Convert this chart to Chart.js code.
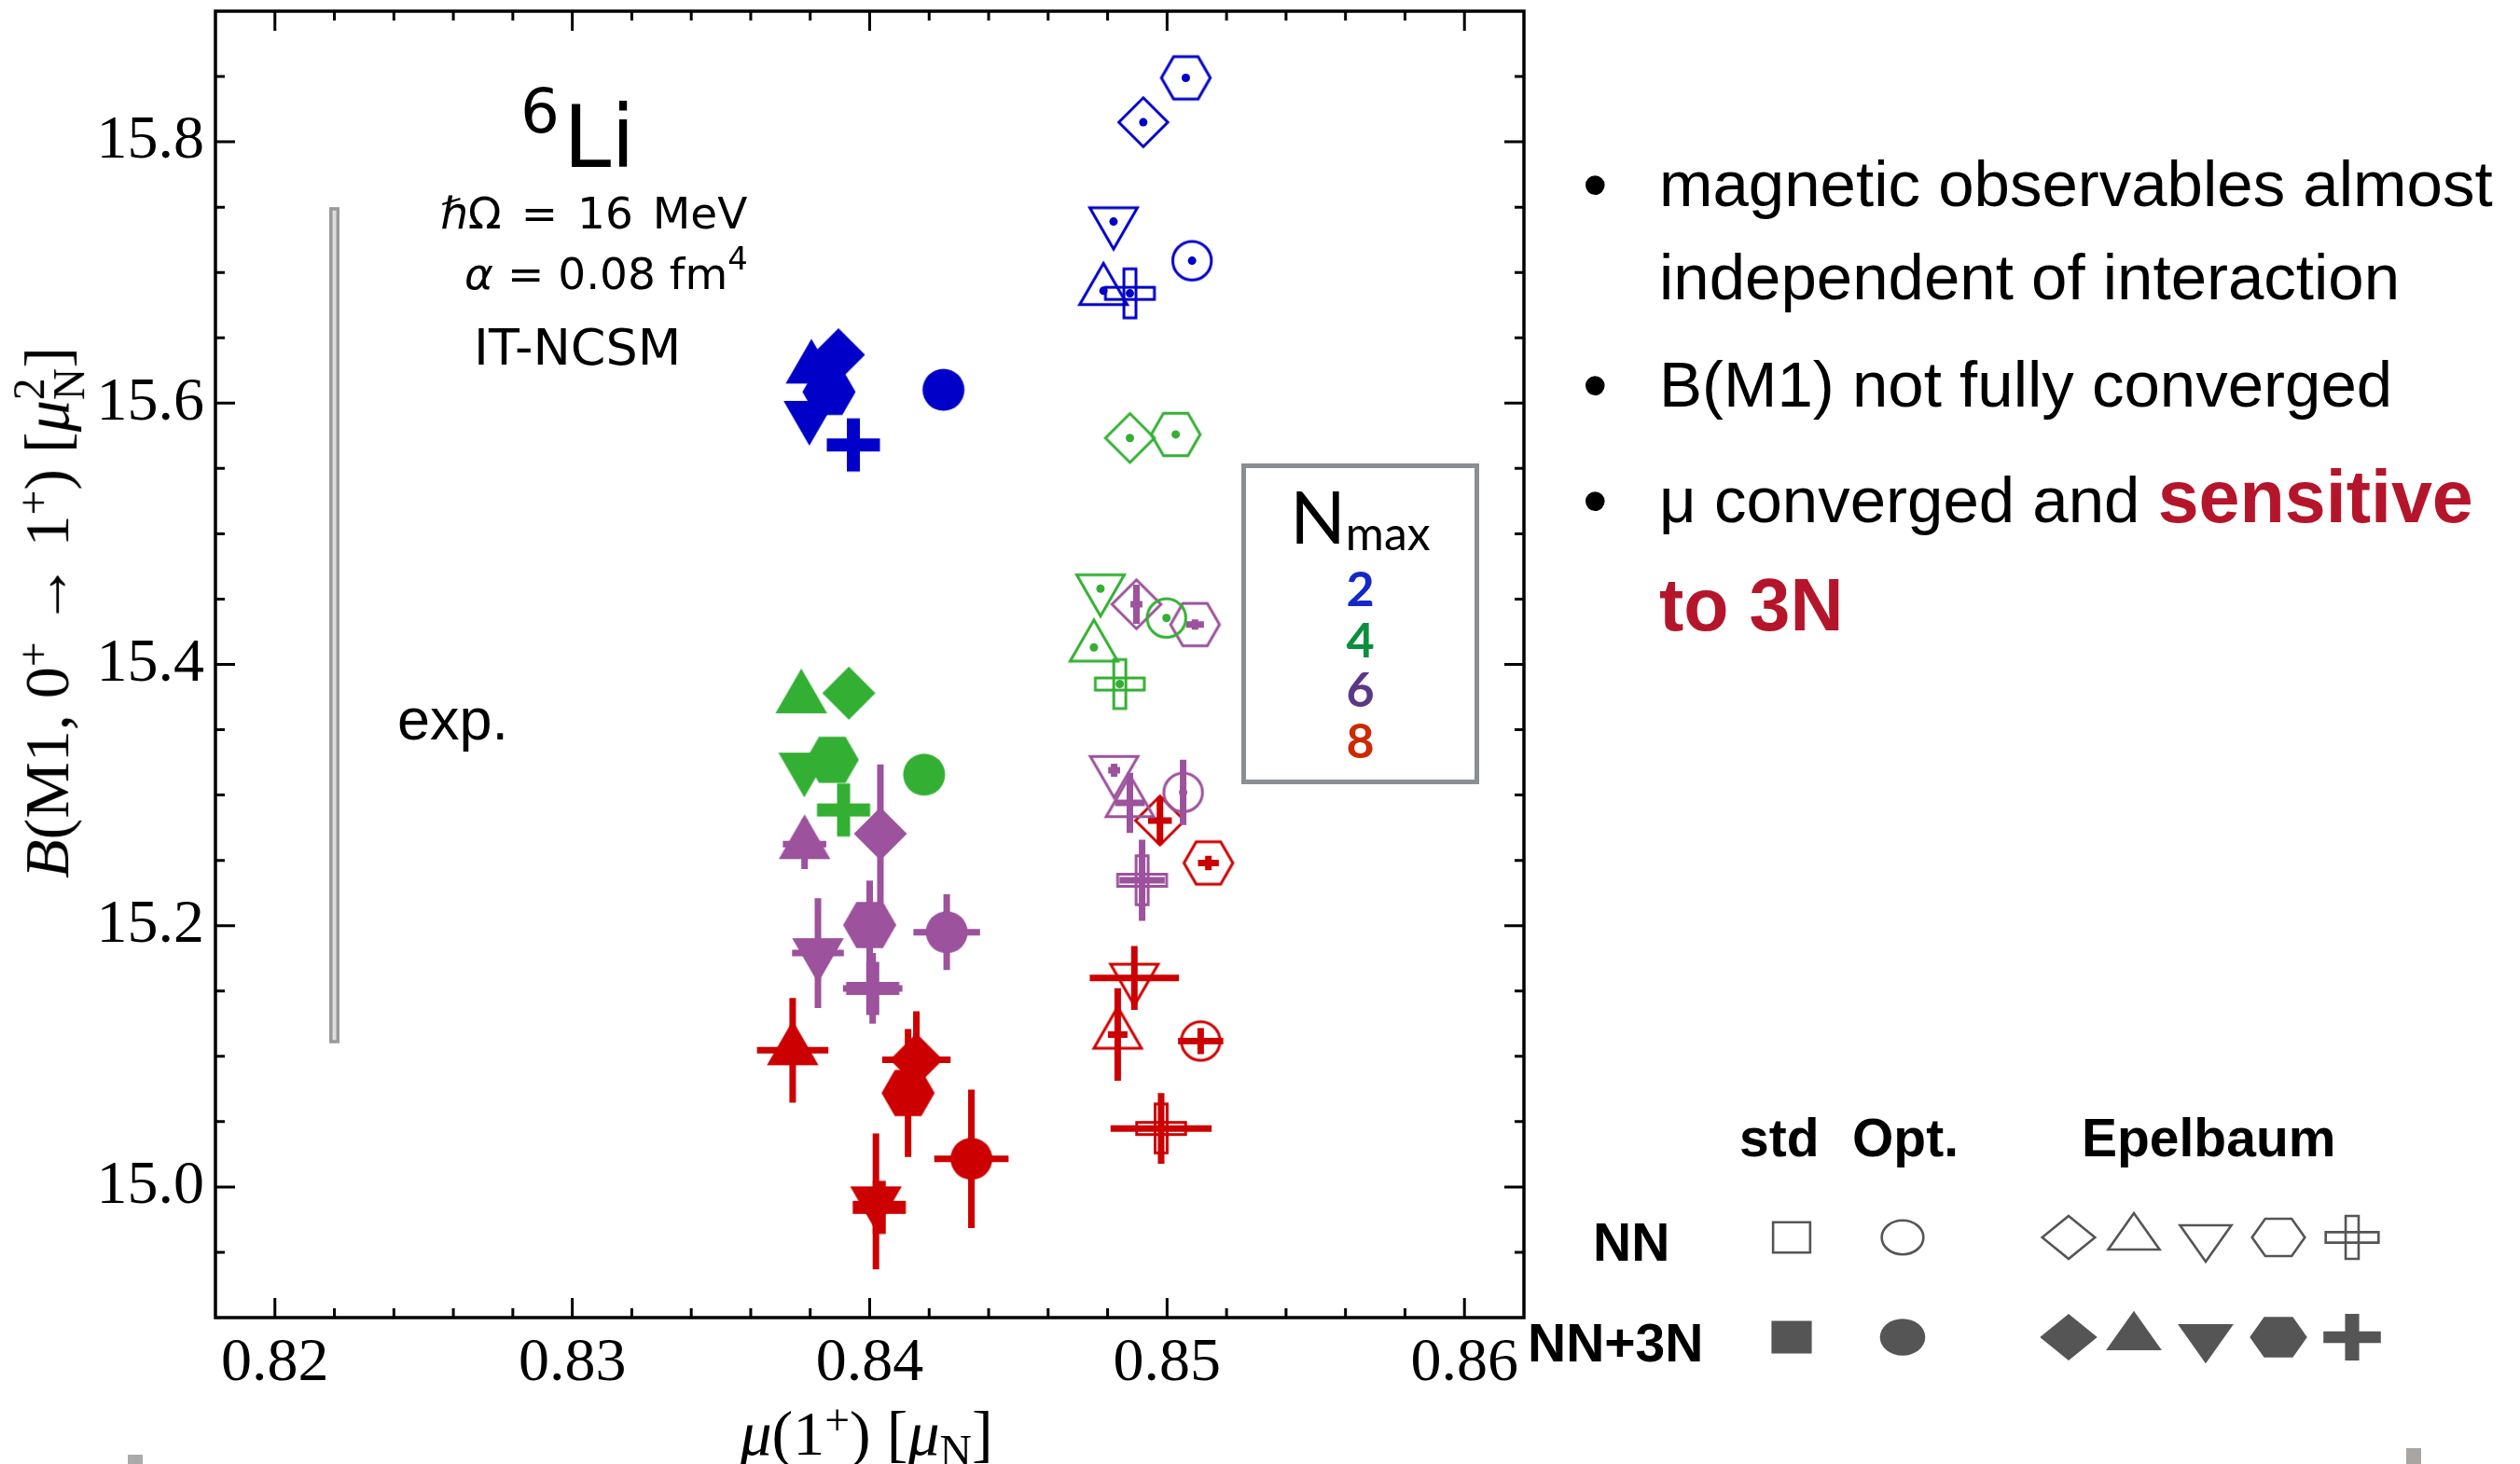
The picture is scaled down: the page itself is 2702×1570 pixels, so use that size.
<!DOCTYPE html>
<html><head><meta charset="utf-8">
<script src="https://cdn.jsdelivr.net/npm/chart.js@4.4.1/dist/chart.umd.min.js"></script>
<style>
html,body{margin:0;padding:0;background:#fff;}
#wrap{position:relative;width:2702px;height:1570px;overflow:hidden;background:#fff;}
#c{position:absolute;left:0;top:0;}
.t{position:absolute;white-space:nowrap;line-height:1;color:#000;}
.dv{font-family:'DejaVu Sans';}
.ls{font-family:'Liberation Sans';}
.sr{font-family:'Liberation Serif';}
.b{font-weight:bold;}
.red{color:#b5152b;font-weight:bold;font-size:79px;}
sup.s{font-size:0.7em;vertical-align:0;position:relative;top:-0.45em;}
sub.s{font-size:0.7em;vertical-align:0;position:relative;top:0.25em;}
</style></head><body>
<div id="wrap">
<canvas id="c" width="2702" height="1570"></canvas>

<!-- annotations inside the plot -->
<div class="t dv" style="left:558px;top:87px;font-size:66px;">6</div>
<div class="t dv" style="left:604px;top:102px;font-size:92px;">Li</div>
<div class="t dv" style="left:472px;top:205px;font-size:47px;word-spacing:6px;"><i>ℏ</i>Ω = 16 MeV</div>
<div class="t dv" style="left:498px;top:270px;font-size:47px;"><i>α</i> = 0.08 fm<span style="font-size:0.72em;position:relative;top:-0.62em;">4</span></div>
<div class="t dv" style="left:508px;top:346px;font-size:54px;">IT-NCSM</div>
<div class="t ls" style="left:426px;top:740px;font-size:63px;">exp.</div>

<!-- axis titles -->
<div class="t sr" style="left:929px;top:1503px;font-size:68px;transform:translateX(-50%);"><i>μ</i>(1<sup class="s">+</sup>) [<i>μ</i><sub class="s">N</sub>]</div>
<div class="t sr" style="left:53px;top:657px;font-size:68px;transform:translate(-50%,-50%) rotate(-90deg);"><i>B</i>(M1, 0<sup class="s">+</sup> → 1<sup class="s">+</sup>) [<i>μ</i><span style="display:inline-block;font-size:0.7em;line-height:0.9;vertical-align:-0.35em;text-align:left;">2<br>N</span>]</div>

<!-- Nmax box -->
<div style="position:absolute;left:1331px;top:497px;width:255px;height:344px;box-sizing:border-box;border:5px solid #8a8d91;"></div>
<div class="t" style="left:1331px;top:514px;width:255px;text-align:center;font-family:Lato;"><span style="font-size:78px;">N</span><span style="font-size:50px;position:relative;top:7px;">max</span></div>
<div class="t" style="left:1331px;top:604px;width:255px;text-align:center;font-family:Lato;font-weight:bold;font-size:52px;color:#1428c8;">2</div>
<div class="t" style="left:1331px;top:659px;width:255px;text-align:center;font-family:Lato;font-weight:bold;font-size:52px;color:#0b8f3c;">4</div>
<div class="t" style="left:1331px;top:712px;width:255px;text-align:center;font-family:Lato;font-weight:bold;font-size:52px;color:#5b3886;">6</div>
<div class="t" style="left:1331px;top:767px;width:255px;text-align:center;font-family:Lato;font-weight:bold;font-size:52px;color:#cc2a00;">8</div>

<!-- bullet text -->
<div class="t ls" style="left:1697px;top:160px;font-size:76px;">•</div>
<div class="t ls" style="left:1779px;top:163px;font-size:69px;">magnetic observables almost</div>
<div class="t ls" style="left:1779px;top:263px;font-size:69px;">independent of interaction</div>
<div class="t ls" style="left:1697px;top:375px;font-size:76px;">•</div>
<div class="t ls" style="left:1779px;top:378px;font-size:69px;">B(M1) not fully converged</div>
<div class="t ls" style="left:1697px;top:499px;font-size:76px;">•</div>
<div class="t ls" style="left:1779px;top:493px;font-size:69px;">μ converged and <span class="red">sensitive</span></div>
<div class="t ls red" style="left:1779px;top:609px;">to 3N</div>

<!-- symbol legend text -->
<div class="t ls b" style="left:1865px;top:1192px;font-size:57px;">std</div>
<div class="t ls b" style="left:1986px;top:1192px;font-size:57px;">Opt.</div>
<div class="t ls b" style="left:2232px;top:1192px;font-size:57px;">Epelbaum</div>
<div class="t ls b" style="left:1708px;top:1304px;font-size:57px;">NN</div>
<div class="t ls b" style="left:1638px;top:1412px;font-size:57px;">NN+3N</div>

<div style="position:absolute;left:137px;top:1560px;width:16px;height:10px;background:#aaa;"></div>
<div style="position:absolute;left:2580px;top:1553px;width:16px;height:17px;background:#a8a5a3;"></div>
</div>

<script>
// ---------------- data ----------------
// marker order inside every series
const shapeOrder = ['diamond', 'triUp', 'triDown', 'hexagon', 'plus', 'circle'];
const nmaxValues = [2, 4, 6, 8];

// axis ticks
const xTicks = [0.82, 0.83, 0.84, 0.85, 0.86];
const yTicks = [15.0, 15.2, 15.4, 15.6, 15.8];
const X_MIN = 0.818, X_MAX = 0.862, X_MINOR = 0.002;
const Y_MIN = 14.9, Y_MAX = 15.9, Y_MINOR = 0.05;

// experiment
const expMu = 0.822;
const expB = 15.43;
const expBErr = 0.32;

// NN (open symbols)
const mu_NN_2 = [0.8492, 0.84786, 0.8482, 0.85063, 0.84875, 0.85084];
const B_NN_2 = [15.815, 15.686, 15.739, 15.849, 15.684, 15.709];
const dmu_NN_2 = [0, 0, 0, 0, 0, 0];
const dB_NN_2 = [0, 0, 0, 0, 0, 0];

const mu_NN_4 = [0.84875, 0.84754, 0.84776, 0.85029, 0.84841, 0.84998];
const B_NN_4 = [15.5733, 15.413, 15.458, 15.576, 15.385, 15.4355];
const dmu_NN_4 = [0, 0, 0, 0, 0, 0];
const dB_NN_4 = [0, 0, 0, 0, 0, 0];

const mu_NN_6 = [0.84897, 0.84875, 0.84822, 0.85094, 0.84916, 0.85054];
const B_NN_6 = [15.446, 15.294, 15.319, 15.4305, 15.2348, 15.302];
const dmu_NN_6 = [0.0002, 0.0005, 0.0002, 0.0003, 0.00076, 0.0001];
const dB_NN_6 = [0.015, 0.023, 0.005, 0.004, 0.031, 0.025];

const mu_NN_8 = [0.84976, 0.84834, 0.8489, 0.85139, 0.8498, 0.85113];
const B_NN_8 = [15.2805, 15.1167, 15.16, 15.248, 15.0448, 15.1117];
const dmu_NN_8 = [0.0004, 0.00033, 0.0015, 0.00035, 0.0017, 0.00076];
const dB_NN_8 = [0.018, 0.0354, 0.0244, 0.0055, 0.027, 0.01];

// NN+3N (filled symbols)
const mu_3N_2 = [0.83895, 0.83804, 0.83797, 0.83863, 0.83945, 0.84248];
const B_3N_2 = [15.637, 15.6264, 15.5903, 15.6086, 15.568, 15.6102];
const dmu_3N_2 = [0, 0, 0, 0, 0, 0];
const dB_3N_2 = [0, 0, 0, 0, 0, 0];

const mu_3N_4 = [0.8393, 0.8377, 0.8378, 0.83874, 0.83912, 0.84183];
const B_3N_4 = [15.378, 15.374, 15.321, 15.327, 15.2886, 15.3156];
const dmu_3N_4 = [0, 0, 0, 0, 0, 0];
const dB_3N_4 = [0, 0, 0, 0, 0, 0];

const mu_3N_6 = [0.84036, 0.83781, 0.83826, 0.84, 0.8401, 0.84259];
const B_3N_6 = [15.2704, 15.2624, 15.179, 15.2005, 15.152, 15.195];
const dmu_3N_6 = [0, 0.00073, 0.00087, 0, 0.001, 0.00112];
const dB_3N_6 = [0.053, 0.019, 0.042, 0.034, 0.027, 0.029];

const mu_3N_8 = [0.84157, 0.83741, 0.84021, 0.84129, 0.84032, 0.84342];
const B_3N_8 = [15.0974, 15.1046, 14.989, 15.0719, 14.9844, 15.0216];
const dmu_3N_8 = [0.00115, 0.0012, 0.0003, 0, 0.0006, 0.00125];
const dB_3N_8 = [0.037, 0.04, 0.052, 0.049, 0.01, 0.053];

// ---------------- styles ----------------
const nmaxColors = ['#0000c8', '#33b033', '#9c529c', '#cc0000'];
const MARK = { circle: 22.5, diamond: 28.5, hexagon: 28.5, triUp: 32, triDown: 32, plus: 28.5, square: 20 };
const PLUS_T = 7;
const OPEN_SCALE = 0.92;

function drawMarker(ctx, shape, cx, cy, color, filled, sx, sy, lw) {
  const f = filled ? 1 : OPEN_SCALE;
  const s = MARK[shape] * f;
  ctx.save();
  ctx.translate(cx, cy);
  ctx.scale(sx, sy);
  ctx.beginPath();
  const c30 = Math.cos(Math.PI / 6);
  switch (shape) {
    case 'circle': ctx.arc(0, 0, s, 0, Math.PI * 2); break;
    case 'square': ctx.rect(-s, -s, 2 * s, 2 * s); break;
    case 'diamond':
      ctx.moveTo(0, -s); ctx.lineTo(s, 0); ctx.lineTo(0, s); ctx.lineTo(-s, 0); ctx.closePath(); break;
    case 'hexagon':
      for (let k = 0; k < 6; k++) {
        const a = k * Math.PI / 3;
        if (k === 0) ctx.moveTo(s * Math.cos(a), s * Math.sin(a)); else ctx.lineTo(s * Math.cos(a), s * Math.sin(a));
      }
      ctx.closePath(); break;
    case 'triUp':
      ctx.moveTo(0, -s); ctx.lineTo(s * c30, s / 2); ctx.lineTo(-s * c30, s / 2); ctx.closePath(); break;
    case 'triDown':
      ctx.moveTo(0, s); ctx.lineTo(s * c30, -s / 2); ctx.lineTo(-s * c30, -s / 2); ctx.closePath(); break;
    case 'plus': {
      const t = PLUS_T * f;
      ctx.rect(-s, -t, 2 * s, 2 * t);
      ctx.rect(-t, -s, 2 * t, 2 * s);
      break;
    }
  }
  ctx.restore();
  if (filled) { ctx.fillStyle = color; ctx.fill('nonzero'); }
  else { ctx.strokeStyle = color; ctx.lineWidth = lw; ctx.lineJoin = 'miter'; ctx.stroke(); }
}

const markerCache = {};
function markerCanvas(shape, color, filled) {
  const key = shape + color + filled;
  if (markerCache[key]) return markerCache[key];
  const cv = document.createElement('canvas');
  cv.width = 80; cv.height = 80;
  drawMarker(cv.getContext('2d'), shape, 40, 40, color, filled, 1, 1, 3);
  markerCache[key] = cv;
  return cv;
}

// ---------------- datasets ----------------
const series = [
  { mu: mu_3N_2, B: B_3N_2, dmu: dmu_3N_2, dB: dB_3N_2, n: 0, filled: true, label: 'NN+3N, Nmax=2' },
  { mu: mu_3N_4, B: B_3N_4, dmu: dmu_3N_4, dB: dB_3N_4, n: 1, filled: true, label: 'NN+3N, Nmax=4' },
  { mu: mu_3N_6, B: B_3N_6, dmu: dmu_3N_6, dB: dB_3N_6, n: 2, filled: true, label: 'NN+3N, Nmax=6' },
  { mu: mu_3N_8, B: B_3N_8, dmu: dmu_3N_8, dB: dB_3N_8, n: 3, filled: true, label: 'NN+3N, Nmax=8' },
  { mu: mu_NN_2, B: B_NN_2, dmu: dmu_NN_2, dB: dB_NN_2, n: 0, filled: false, label: 'NN, Nmax=2' },
  { mu: mu_NN_4, B: B_NN_4, dmu: dmu_NN_4, dB: dB_NN_4, n: 1, filled: false, label: 'NN, Nmax=4' },
  { mu: mu_NN_6, B: B_NN_6, dmu: dmu_NN_6, dB: dB_NN_6, n: 2, filled: false, label: 'NN, Nmax=6' },
  { mu: mu_NN_8, B: B_NN_8, dmu: dmu_NN_8, dB: dB_NN_8, n: 3, filled: false, label: 'NN, Nmax=8' }
];

const datasets = series.map(s => {
  const color = nmaxColors[s.n];
  return {
    label: s.label,
    data: s.mu.map((m, i) => ({ x: m, y: s.B[i] })),
    pointStyle: shapeOrder.map(sh => markerCanvas(sh, color, s.filled)),
    pointRadius: 28,
    pointHoverRadius: 28,
    showLine: false,
    errMu: s.dmu,
    errB: s.dB,
    barColor: color,
    centerDot: !s.filled
  };
});

// ---------------- plugins ----------------
const errorBarPlugin = {
  id: 'errbars',
  afterDatasetDraw(chart, args) {
    const ds = chart.data.datasets[args.index];
    if (!ds.errMu) return;
    const xs = chart.scales.x, ys = chart.scales.y, ctx = chart.ctx;
    ctx.save();
    ctx.strokeStyle = ds.barColor; ctx.fillStyle = ds.barColor;
    ctx.lineWidth = 7; ctx.lineCap = 'butt';
    ds.data.forEach((p, i) => {
      const px = xs.getPixelForValue(p.x), py = ys.getPixelForValue(p.y);
      const dm = ds.errMu[i], db = ds.errB[i];
      ctx.beginPath();
      if (dm > 0) { ctx.moveTo(xs.getPixelForValue(p.x - dm), py); ctx.lineTo(xs.getPixelForValue(p.x + dm), py); }
      if (db > 0) { ctx.moveTo(px, ys.getPixelForValue(p.y - db)); ctx.lineTo(px, ys.getPixelForValue(p.y + db)); }
      ctx.stroke();
      if (ds.centerDot) { ctx.beginPath(); ctx.arc(px, py, 4.5, 0, Math.PI * 2); ctx.fill(); }
    });
    ctx.restore();
  }
};

const framePlugin = {
  id: 'frame',
  beforeDatasetsDraw(chart) {
    const { ctx, scales: { x, y } } = chart;
    const px = x.getPixelForValue(expMu);
    const top = y.getPixelForValue(expB + expBErr), bot = y.getPixelForValue(expB - expBErr);
    ctx.save();
    ctx.fillStyle = '#9a9a9a';
    ctx.fillRect(px - 5.5, top, 11, bot - top);
    ctx.fillStyle = '#dedede';
    ctx.fillRect(px - 2, top + 3.5, 4, bot - top - 7);
    ctx.restore();
  },
  afterDraw(chart) {
    const { ctx, chartArea: a, scales: { x, y } } = chart;
    ctx.save();
    ctx.strokeStyle = '#000';
    ctx.lineWidth = 3;
    ctx.beginPath();
    const isMajor = (arr, v) => arr.some(t => Math.abs(t - v) < 1e-7);
    for (let k = Math.ceil(X_MIN / X_MINOR - 1e-6); k * X_MINOR <= X_MAX + 1e-9; k++) {
      const v = k * X_MINOR;
      const p = x.getPixelForValue(v);
      if (p <= a.left + 2 || p >= a.right - 2) continue;
      const L = isMajor(xTicks, v) ? 21 : 10;
      ctx.moveTo(p, a.bottom); ctx.lineTo(p, a.bottom - L);
      ctx.moveTo(p, a.top); ctx.lineTo(p, a.top + L);
    }
    for (let k = Math.ceil(Y_MIN / Y_MINOR - 1e-6); k * Y_MINOR <= Y_MAX + 1e-9; k++) {
      const v = k * Y_MINOR;
      const p = y.getPixelForValue(v);
      if (p <= a.top + 2 || p >= a.bottom - 2) continue;
      const L = isMajor(yTicks, v) ? 21 : 10;
      ctx.moveTo(a.left, p); ctx.lineTo(a.left + L, p);
      ctx.moveTo(a.right, p); ctx.lineTo(a.right - L, p);
    }
    ctx.stroke();
    ctx.lineWidth = 3.5;
    ctx.strokeRect(a.left, a.top, a.right - a.left, a.bottom - a.top);
    ctx.restore();
  }
};

// ---------------- chart ----------------
new Chart(document.getElementById('c'), {
  type: 'scatter',
  data: { datasets },
  options: {
    responsive: false,
    animation: false,
    devicePixelRatio: 1,
    layout: { autoPadding: false, padding: { left: 0, top: 12, right: 1068, bottom: 0 } },
    plugins: { legend: { display: false }, tooltip: { enabled: false } },
    scales: {
      x: {
        type: 'linear', min: X_MIN, max: X_MAX,
        afterBuildTicks: s => { s.ticks = xTicks.map(v => ({ value: v })); },
        afterFit: s => { s.height = 157; s.paddingLeft = 0; s.paddingRight = 0; },
        grid: { display: false, drawTicks: false },
        border: { display: false },
        ticks: { font: { family: 'Liberation Serif', size: 66 }, color: '#000', padding: 10, maxRotation: 0, autoSkip: false,
          callback: v => Number(v).toFixed(2) }
      },
      y: {
        type: 'linear', min: Y_MIN, max: Y_MAX,
        afterBuildTicks: s => { s.ticks = yTicks.map(v => ({ value: v })); },
        afterFit: s => { s.width = 231; s.paddingTop = 0; s.paddingBottom = 0; },
        grid: { display: false, drawTicks: false },
        border: { display: false },
        ticks: { font: { family: 'Liberation Serif', size: 66 }, color: '#000', padding: 12, autoSkip: false,
          callback: v => Number(v).toFixed(1) }
      }
    }
  },
  plugins: [framePlugin, errorBarPlugin]
});

// ---------------- symbol legend (std / Opt. / Epelbaum) ----------------
const legendShapes = ['square', 'circle', 'diamond', 'triUp', 'triDown', 'hexagon', 'plus'];
const legendX = [1921, 2040, 2218, 2288, 2365, 2443, 2522];
const legendRowY = [1327, 1434];
const wrap = document.getElementById('wrap');
legendRowY.forEach((cy, row) => {
  legendShapes.forEach((sh, i) => {
    const cv = document.createElement('canvas');
    cv.width = 90; cv.height = 80;
    cv.style.position = 'absolute';
    cv.style.left = (legendX[i] - 45) + 'px';
    cv.style.top = (cy - 40) + 'px';
    drawMarker(cv.getContext('2d'), sh, 45, 40, '#555555', row === 1, 1.08, 0.88, 2.6);
    wrap.appendChild(cv);
  });
});
</script>
</body></html>
